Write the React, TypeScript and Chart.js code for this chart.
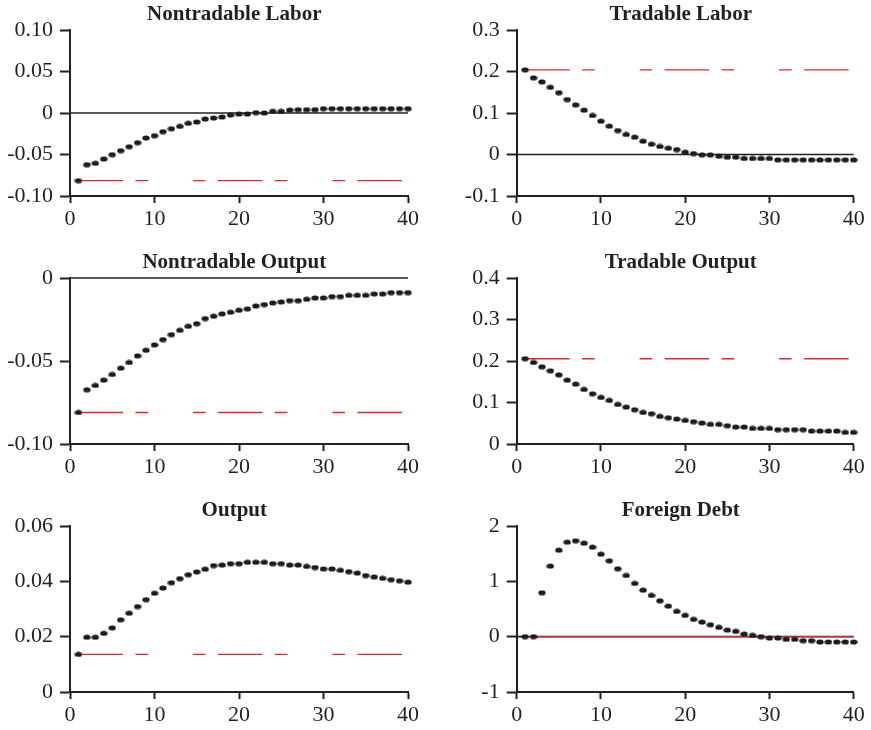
import React, { useEffect, useRef } from "react";
import { Chart, registerables } from "chart.js";

Chart.register(...registerables);

// ---------- data ----------
const periods = [1,2,3,4,5,6,7,8,9,10,11,12,13,14,15,16,17,18,19,20,21,22,23,24,25,26,27,28,29,30,31,32,33,34,35,36,37,38,39,40];
const xTicks = [0, 10, 20, 30, 40];

const nontradableLabor = [-0.0815,-0.0622,-0.0606,-0.0554,-0.0502,-0.0454,-0.0406,-0.0357,-0.0301,-0.0273,-0.0225,-0.0189,-0.0161,-0.0124,-0.0108,-0.0072,-0.006,-0.0048,-0.0024,-0.0012,-0.0012,0.0004,0,0.002,0.002,0.0036,0.004,0.004,0.004,0.0052,0.0052,0.0052,0.0052,0.0052,0.0052,0.0052,0.0052,0.0052,0.0052,0.0052];
const tradableLabor = [0.204,0.1847,0.175,0.162,0.149,0.1325,0.1197,0.1068,0.094,0.0803,0.0683,0.0578,0.0482,0.0418,0.0321,0.0249,0.0193,0.0153,0.012,0.0056,0.0024,-0.0008,-0.0008,-0.004,-0.0064,-0.0064,-0.0096,-0.0096,-0.0096,-0.0096,-0.0129,-0.0129,-0.0129,-0.0129,-0.0129,-0.0129,-0.0129,-0.0129,-0.0129,-0.0129];
const nontradableOutput = [-0.081,-0.0673,-0.0647,-0.0615,-0.0581,-0.0543,-0.0509,-0.0469,-0.0435,-0.0403,-0.0371,-0.0341,-0.0315,-0.0291,-0.0275,-0.0244,-0.023,-0.0216,-0.0206,-0.0194,-0.0186,-0.0168,-0.016,-0.015,-0.0144,-0.0136,-0.0136,-0.0128,-0.012,-0.012,-0.0112,-0.0112,-0.0104,-0.0104,-0.0104,-0.0096,-0.0096,-0.0088,-0.0088,-0.0088];
const tradableOutput = [0.2056,0.1964,0.186,0.1764,0.1667,0.1539,0.1443,0.1315,0.121,0.1122,0.105,0.0954,0.089,0.0826,0.0762,0.073,0.0665,0.0633,0.0601,0.0569,0.0537,0.0505,0.0473,0.0473,0.0441,0.0409,0.0409,0.0377,0.0377,0.0377,0.0345,0.0345,0.0345,0.0345,0.0313,0.0313,0.0313,0.0313,0.0281,0.0281];
const output = [0.0136,0.0198,0.0198,0.0212,0.0232,0.0261,0.0285,0.0309,0.0334,0.0357,0.0376,0.0395,0.041,0.0424,0.0434,0.0444,0.0457,0.0459,0.0464,0.0464,0.0469,0.0469,0.0469,0.0464,0.0464,0.0459,0.0459,0.0454,0.045,0.0445,0.0445,0.044,0.0435,0.043,0.0421,0.0416,0.0411,0.0406,0.0402,0.0397];
const foreignDebt = [0,0,0.794,1.275,1.563,1.708,1.732,1.69,1.618,1.491,1.371,1.227,1.106,0.962,0.842,0.746,0.649,0.553,0.457,0.385,0.313,0.265,0.216,0.168,0.12,0.096,0.048,0.024,0,-0.024,-0.024,-0.048,-0.048,-0.072,-0.072,-0.096,-0.096,-0.096,-0.096,-0.096];

const redNontradableLabor = -0.0815;
const redTradableLabor = 0.204;
const redNontradableOutput = -0.081;
const redTradableOutput = 0.2056;
const redOutput = 0.0136;
const redForeignDebt = 0;

const yTicksNL = [-0.1, -0.05, 0, 0.05, 0.1];
const yLabelsNL = ["-0.10", "-0.05", "0", "0.05", "0.10"];
const yTicksTL = [-0.1, 0, 0.1, 0.2, 0.3];
const yLabelsTL = ["-0.1", "0", "0.1", "0.2", "0.3"];
const yTicksNO = [-0.1, -0.05, 0];
const yLabelsNO = ["-0.10", "-0.05", "0"];
const yTicksTO = [0, 0.1, 0.2, 0.3, 0.4];
const yLabelsTO = ["0", "0.1", "0.2", "0.3", "0.4"];
const yTicksO = [0, 0.02, 0.04, 0.06];
const yLabelsO = ["0", "0.02", "0.04", "0.06"];
const yTicksFD = [-1, 0, 1, 2];
const yLabelsFD = ["-1", "0", "1", "2"];

// ---------- styling ----------
const FONT = "'Liberation Serif', 'Times New Roman', serif";
const TEXT = "#231f20";
const AXIS = "#231f20";
const RED = "#e3262c";
const DASH = [44.5, 12.5, 12.5, 45, 12.5, 12.5];
const CANVAS_H = 234;
const PLOT_TOP = 30;
const PLOT_H = 166;
const TITLE_Y = 15;

type PanelCfg = {
  title: string;
  values: number[];
  red: number;
  redDashed: boolean;
  zeroLine: boolean;
  yTicks: number[];
  yLabels: string[];
  left: number;
  top: number;
  col: number;
};

const panels: PanelCfg[] = [
  { title: "Nontradable Labor", values: nontradableLabor, red: redNontradableLabor, redDashed: true, zeroLine: true, yTicks: yTicksNL, yLabels: yLabelsNL, left: 0, top: 0, col: 0 },
  { title: "Tradable Labor", values: tradableLabor, red: redTradableLabor, redDashed: true, zeroLine: true, yTicks: yTicksTL, yLabels: yLabelsTL, left: 435, top: 0, col: 1 },
  { title: "Nontradable Output", values: nontradableOutput, red: redNontradableOutput, redDashed: true, zeroLine: true, yTicks: yTicksNO, yLabels: yLabelsNO, left: 0, top: 248, col: 0 },
  { title: "Tradable Output", values: tradableOutput, red: redTradableOutput, redDashed: true, zeroLine: false, yTicks: yTicksTO, yLabels: yLabelsTO, left: 435, top: 248, col: 1 },
  { title: "Output", values: output, red: redOutput, redDashed: true, zeroLine: false, yTicks: yTicksO, yLabels: yLabelsO, left: 0, top: 496, col: 0 },
  { title: "Foreign Debt", values: foreignDebt, red: redForeignDebt, redDashed: false, zeroLine: true, yTicks: yTicksFD, yLabels: yLabelsFD, left: 435, top: 496, col: 1 },
];

// column geometry (chart-area left / right in canvas px, title centre)
const COLS = [
  { width: 435, plotLeft: 70, plotRight: 408, titleCenter: 234.3 },
  { width: 436, plotLeft: 81.7, plotRight: 418.7, titleCenter: 245.8 },
];

function makeDot(): HTMLCanvasElement {
  const c = document.createElement("canvas");
  c.width = 8;
  c.height = 6;
  const ctx = c.getContext("2d")!;
  ctx.fillStyle = "#1c1c1c";
  ctx.beginPath();
  ctx.ellipse(4, 3, 3.7, 2.6, 0, 0, Math.PI * 2);
  ctx.fill();
  return c;
}

function Panel({ cfg }: { cfg: PanelCfg }) {
  const ref = useRef<HTMLCanvasElement | null>(null);
  const geo = COLS[cfg.col];

  useEffect(() => {
    if (!ref.current) return;
    const dot = makeDot();
    const padRight = geo.width - geo.plotRight;
    const yWidth = geo.plotLeft;
    const xHeight = CANVAS_H - PLOT_TOP - PLOT_H;

    const datasets: any[] = [
      {
        data: periods.map((x, i) => ({ x, y: cfg.values[i] })),
        showLine: false,
        pointStyle: dot,
        pointRadius: 4,
        pointHoverRadius: 4,
        clip: false,
        order: 0,
      },
      {
        data: [{ x: periods[0], y: cfg.red }, { x: periods[periods.length - 1], y: cfg.red }],
        showLine: true,
        borderColor: RED,
        borderWidth: 1.4,
        borderDash: cfg.redDashed ? DASH : [],
        pointRadius: 0,
        clip: false,
        order: 1,
      },
    ];
    if (cfg.zeroLine) {
      datasets.push({
        data: [{ x: xTicks[0], y: 0 }, { x: xTicks[xTicks.length - 1], y: 0 }],
        showLine: true,
        borderColor: AXIS,
        borderWidth: 1.6,
        pointRadius: 0,
        clip: false,
        order: 2,
      });
    }

    const titlePlugin = {
      id: "panelTitle",
      afterDraw(chart: any) {
        const ctx = chart.ctx;
        ctx.save();
        ctx.font = `bold 21px ${FONT}`;
        ctx.fillStyle = TEXT;
        ctx.textAlign = "center";
        ctx.textBaseline = "middle";
        ctx.fillText(cfg.title, geo.titleCenter, TITLE_Y);
        ctx.restore();
      },
    };

    const tickFont = { family: FONT, size: 22, lineHeight: 1.2 };
    const yMin = cfg.yTicks[0];
    const yMax = cfg.yTicks[cfg.yTicks.length - 1];

    const chart = new Chart(ref.current, {
      type: "scatter",
      data: { datasets },
      plugins: [titlePlugin],
      options: {
        animation: false,
        responsive: false,
        events: [],
        layout: { padding: { left: 0, right: padRight, top: PLOT_TOP, bottom: 0 } },
        plugins: {
          legend: { display: false },
          tooltip: { enabled: false },
          title: { display: false },
        },
        scales: {
          x: {
            type: "linear",
            min: xTicks[0],
            max: xTicks[xTicks.length - 1],
            afterBuildTicks: (s: any) => {
              s.ticks = xTicks.map((v) => ({ value: v }));
            },
            afterFit: (s: any) => {
              s.height = xHeight;
            },
            ticks: {
              font: tickFont,
              color: TEXT,
              padding: 3,
              maxRotation: 0,
              autoSkip: false,
              callback: (v: any) => String(v),
            },
            grid: {
              display: true,
              drawOnChartArea: false,
              drawTicks: true,
              tickLength: 7,
              tickWidth: 2,
              tickColor: AXIS,
            },
            border: { display: true, color: AXIS, width: 2 },
          },
          y: {
            type: "linear",
            min: yMin,
            max: yMax,
            afterBuildTicks: (s: any) => {
              s.ticks = cfg.yTicks.map((v) => ({ value: v }));
            },
            afterFit: (s: any) => {
              s.width = yWidth;
            },
            ticks: {
              font: tickFont,
              color: TEXT,
              padding: 7,
              autoSkip: false,
              callback: (_v: any, i: number) => cfg.yLabels[i],
            },
            grid: {
              display: true,
              drawOnChartArea: false,
              drawTicks: true,
              tickLength: 10,
              tickWidth: 2,
              tickColor: AXIS,
            },
            border: { display: true, color: AXIS, width: 2 },
          },
        },
      } as any,
    });
    return () => chart.destroy();
  }, [cfg]);

  return (
    <canvas
      ref={ref}
      width={geo.width}
      height={CANVAS_H}
      style={{ position: "absolute", left: cfg.left, top: cfg.top, width: geo.width, height: CANVAS_H }}
    />
  );
}

export default function App() {
  return (
    <div
      style={{
        position: "absolute",
        left: 0,
        top: 0,
        width: 871,
        height: 730,
        overflow: "hidden",
        background: "#ffffff",
      }}
    >
      {panels.map((p) => (
        <Panel key={p.title} cfg={p} />
      ))}
    </div>
  );
}
